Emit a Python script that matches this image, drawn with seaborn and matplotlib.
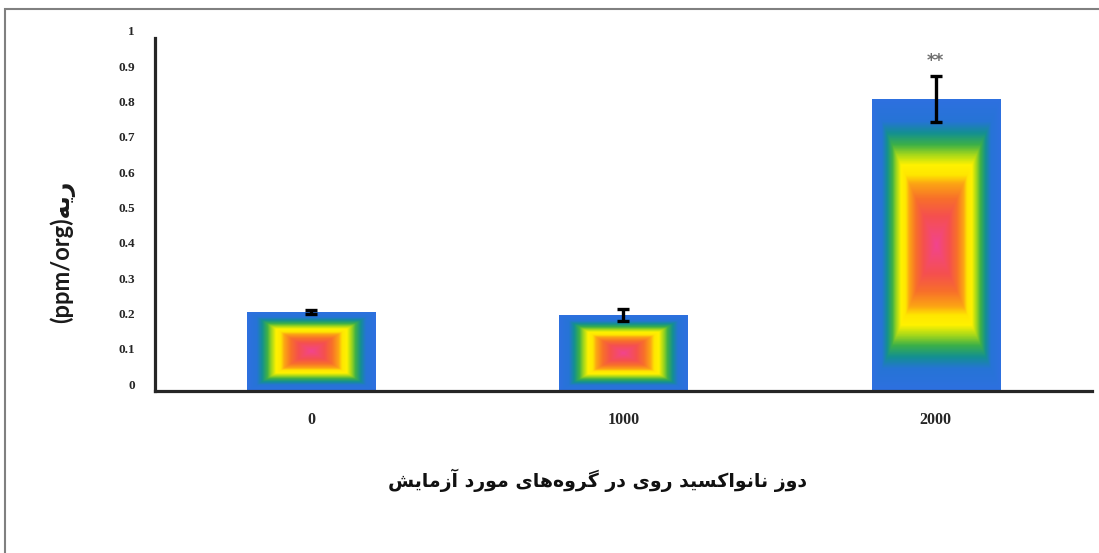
import numpy as np
import pandas as pd
import matplotlib
matplotlib.use("Agg")
import matplotlib.pyplot as plt
from matplotlib.colors import LinearSegmentedColormap
from matplotlib.patches import Rectangle
from matplotlib.transforms import ScaledTranslation
import seaborn as sns

# ---- data -------------------------------------------------------------
doses = ["0", "1000", "2000"]
zinc_level = [0.224, 0.215, 0.827]
zinc_sem = [0.006, 0.017, 0.064]
significance = ["", "", "**"]
y_ticks = [0, 0.1, 0.2, 0.3, 0.4, 0.5, 0.6, 0.7, 0.8, 0.9, 1]
y_tick_labels = ["0", "0.1", "0.2", "0.3", "0.4", "0.5", "0.6", "0.7", "0.8", "0.9", "1"]
x_title = "دوز نانواکسید روی در گروه‌های مورد آزمایش"
y_unit = "(ppm/org)"
y_word = "ریه"


# ---- minimal Persian shaping (presentation forms + visual order) ------
FORMS = {
    "\u0627": ("\uFE8D", "\uFE8E", None, None),
    "\u0622": ("\uFE81", "\uFE82", None, None),
    "\u062F": ("\uFEA9", "\uFEAA", None, None),
    "\u0631": ("\uFEAD", "\uFEAE", None, None),
    "\u0632": ("\uFEAF", "\uFEB0", None, None),
    "\u0648": ("\uFEED", "\uFEEE", None, None),
    "\u0646": ("\uFEE5", "\uFEE6", "\uFEE7", "\uFEE8"),
    "\u0633": ("\uFEB1", "\uFEB2", "\uFEB3", "\uFEB4"),
    "\u0634": ("\uFEB5", "\uFEB6", "\uFEB7", "\uFEB8"),
    "\u0645": ("\uFEE1", "\uFEE2", "\uFEE3", "\uFEE4"),
    "\u0647": ("\uFEE9", "\uFEEA", "\uFEEB", "\uFEEC"),
    "\u06CC": ("\uFBFC", "\uFBFD", "\uFBFE", "\uFBFF"),
    "\u06A9": ("\uFB8E", "\uFB8F", "\uFB90", "\uFB91"),
    "\u06AF": ("\uFB92", "\uFB93", "\uFB94", "\uFB95"),
}


def shape_rtl(text):
    out = []
    n = len(text)
    for i, ch in enumerate(text):
        if ch == "\u200C":
            continue
        if ch not in FORMS:
            out.append(ch)
            continue
        iso, fin, ini, med = FORMS[ch]
        prev = text[i - 1] if i > 0 else ""
        nxt = text[i + 1] if i + 1 < n else ""
        join_prev = prev in FORMS and FORMS[prev][2] is not None
        join_next = ini is not None and nxt in FORMS
        if join_prev and join_next:
            out.append(med)
        elif join_prev:
            out.append(fin)
        elif join_next:
            out.append(ini)
        else:
            out.append(iso)
    return "".join(reversed(out))


# ---- gradient used inside the bars -----------------------------------
box_cmap = LinearSegmentedColormap.from_list(
    "box",
    [
        (0.00, "#f2448e"),
        (0.20, "#f5504e"),
        (0.32, "#f8702a"),
        (0.42, "#fca414"),
        (0.48, "#ffe600"),
        (0.55, "#fff200"),
        (0.62, "#a6d81a"),
        (0.69, "#3cb048"),
        (0.77, "#138f92"),
        (0.85, "#2674d6"),
        (1.00, "#2e70e0"),
    ],
)

sns.set_theme(style="white")
plt.rcParams["font.family"] = ["DejaVu Sans"]

fig = plt.figure(figsize=(10.99, 5.53), dpi=100)
ax = fig.add_axes([0.141, 0.2929, 0.8526, 0.6384])

df = pd.DataFrame({"dose": doses, "level": zinc_level})
sns.barplot(data=df, x="dose", y="level", order=doses, width=0.41,
            errorbar=None, color="#2e70e0", saturation=1, ax=ax, zorder=2)

ax.set_xlim(-0.5, 2.5)
ax.set_ylim(0, 1)

# fill each bar with a rectangular (box) gradient
for patch in ax.patches:
    x0, y0 = patch.get_x(), patch.get_y()
    w, h = patch.get_width(), patch.get_height()
    u = np.linspace(-1, 1, 200)
    v = np.linspace(-1, 1, 400)
    U, V = np.meshgrid(u, v)
    dist = np.maximum(np.abs(U), np.abs(V))
    img = ax.imshow(box_cmap(dist), extent=[x0, x0 + w, y0, y0 + h],
                    aspect="auto", origin="lower", interpolation="bilinear",
                    zorder=2.5)
    img.set_clip_path(patch)
ax.set_xlim(-0.5, 2.5)
ax.set_ylim(0, 1)

# error bars and significance marks
xpos = np.arange(len(doses))
ax.errorbar(xpos, zinc_level, yerr=zinc_sem, fmt="none", ecolor="black",
            elinewidth=2.4, capsize=4.5, capthick=2.4, zorder=4)
for xi, val, err, mark in zip(xpos, zinc_level, zinc_sem, significance):
    if mark:
        ax.annotate(mark, (xi, val + err), xytext=(0, 5),
                    textcoords="offset points", ha="center", va="bottom",
                    fontsize=12, color="#6e6e6e", fontweight="bold",
                    family="DejaVu Sans")

# axes styling
for side in ("top", "right"):
    ax.spines[side].set_visible(False)
for side in ("left", "bottom"):
    ax.spines[side].set_linewidth(2.3)
    ax.spines[side].set_color("#262626")
    ax.spines[side].set_capstyle("projecting")

ax.set_yticks(y_ticks)
ax.set_yticklabels(y_tick_labels, fontfamily="Liberation Serif",
                   fontweight="bold", fontsize=9.5, color="#262626")
ax.set_xticks(xpos)
ax.set_xticklabels(doses, fontfamily="Liberation Serif",
                   fontweight="bold", fontsize=11.5, color="#262626")
ax.tick_params(axis="y", length=0, pad=14.5)
ax.tick_params(axis="x", length=0, pad=15)
shift = ScaledTranslation(0, 7 / 100, fig.dpi_scale_trans)
for lbl in ax.get_yticklabels():
    lbl.set_transform(lbl.get_transform() + shift)

ax.set_ylabel(y_unit + shape_rtl(y_word), family=["Lato", "DejaVu Sans"],
              fontweight="bold", fontsize=17, color="#1a1a1a")
ax.yaxis.set_label_coords(-0.085, 0.394)
ax.set_xlabel(shape_rtl(x_title), family="DejaVu Sans", fontweight="bold",
              fontsize=13.6, color="#111111")
ax.xaxis.set_label_coords(0.472, -0.252)
ax.xaxis.label.set_va("center")

# outer frame around the figure
fig.add_artist(Rectangle((0.0045, -0.2), 1.2, 0.9837 + 0.2,
                         transform=fig.transFigure, fill=False,
                         ec="#808080", lw=1.5, clip_on=False))

fig.savefig("out.png", dpi=100, facecolor="white")
